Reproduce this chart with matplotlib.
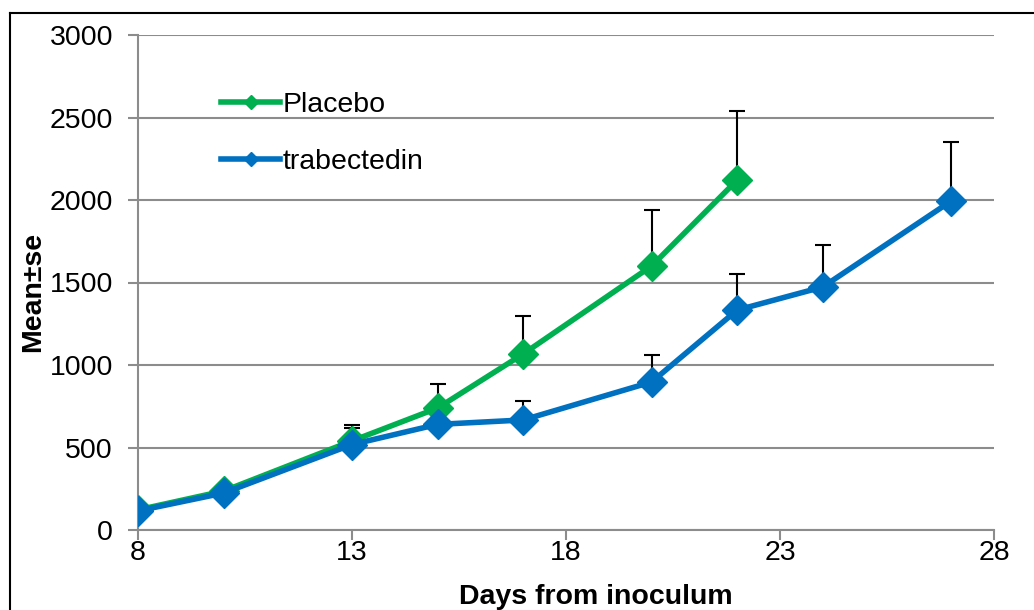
import matplotlib
matplotlib.use("Agg")
import matplotlib.pyplot as plt
from matplotlib.lines import Line2D

plt.rcParams['font.family'] = ['Liberation Sans', 'DejaVu Sans']

# Tumour volume by day (mean and standard error)
placebo_days = [8, 10, 13, 15, 17, 20, 22]
placebo_mean = [122, 236, 540, 739, 1067, 1600, 2121]
placebo_se = [0, 0, 95, 146, 230, 339, 418]

trab_days = [8, 10, 13, 15, 17, 20, 22, 24, 27]
trab_mean = [116, 224, 518, 640, 667, 897, 1333, 1473, 1994]
trab_se = [0, 0, 100, 60, 115, 164, 219, 254, 358]

x_ticks = [8, 13, 18, 23, 28]
y_ticks = [0, 500, 1000, 1500, 2000, 2500, 3000]

GREEN = '#00B050'
BLUE = '#0070C0'
GRID = '#8C8C8C'
FS = 20.5

W, H = 1034, 610
fig = plt.figure(figsize=(W / 100, H / 100), dpi=100)
ax = fig.add_axes([138 / W, 1 - 530 / H, (994 - 138) / W, (530 - 35) / H])

for days, mean, se, color in [(placebo_days, placebo_mean, placebo_se, GREEN),
                              (trab_days, trab_mean, trab_se, BLUE)]:
    ax.errorbar(days, mean, yerr=[[0] * len(se), se], fmt='none',
                ecolor='black', elinewidth=1.5, capsize=6, capthick=1.5, zorder=2)
    ax.plot(days, mean, color=color, lw=4.0, marker='D', ms=15,
            mec=color, mfc=color, zorder=3, solid_joinstyle='round')

ax.set_xlim(8, 28)
ax.set_ylim(0, 3000)
ax.set_xticks(x_ticks)
ax.set_yticks(y_ticks)
ax.tick_params(axis='both', labelsize=FS, color=GRID, width=1.5, length=7,
               direction='out', labelcolor='black')
ax.tick_params(axis='y', pad=11)
ax.tick_params(axis='x', pad=0)

ax.yaxis.grid(True, color=GRID, lw=1.5)
ax.set_axisbelow(True)
for side in ['top', 'right']:
    ax.spines[side].set_visible(False)
for side in ['left', 'bottom']:
    ax.spines[side].set_color(GRID)
    ax.spines[side].set_linewidth(1.5)

handles = [Line2D([], [], color=GREEN, lw=4.0, marker='D', ms=7),
           Line2D([], [], color=BLUE, lw=4.0, marker='D', ms=7)]
ax.legend(handles, ['Placebo', 'trabectedin'], loc='upper left',
          bbox_to_anchor=(72 / 856, 1 - 46 / 495), frameon=False,
          fontsize=FS, handlelength=2.05, handletextpad=0.1,
          labelspacing=1.07, borderaxespad=0)

fig.text(33 / W, 1 - 292 / H, 'Mean±se', rotation=90, ha='center',
         va='center', fontsize=FS, fontweight='bold')
fig.text(596 / W, 1 - 597 / H, 'Days from inoculum', ha='center',
         va='center', fontsize=FS, fontweight='bold')

# Outer frame around the figure
fig.add_artist(Line2D([10 / W, 1.0], [1 - 13 / H, 1 - 13 / H],
                      color='black', lw=1.5, transform=fig.transFigure))
fig.add_artist(Line2D([10 / W, 10 / W], [1 - 13 / H, 0],
                      color='black', lw=1.5, transform=fig.transFigure))

fig.savefig('out.png', dpi=100)
